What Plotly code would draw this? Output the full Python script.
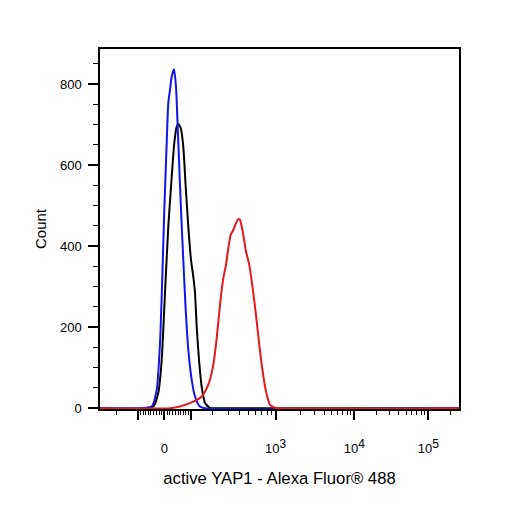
import numpy as np
import plotly.graph_objects as go

# ---------------- data (x = display channel on a 0-256 biexponential scale, y = count) -------------
blue_ch = [0, 30.0, 36.87, 40.43, 42.79, 44.43, 45.85, 47.56, 48.70, 49.92, 51.13, 52.77,
           54.19, 55.12, 56.33, 57.76, 59.40, 61.11, 62.97, 65.39, 67.74, 71.31, 74.88, 256]
blue_cnt = [0, 0, 4, 45, 161, 324, 490, 655, 754, 786, 819, 837,
            794, 720, 613, 490, 366, 243, 144, 70, 29, 4, 0, 0]

black_ch = [0, 32.0, 38.01, 41.57, 44.00, 46.35, 48.70, 51.13, 52.98, 54.69, 55.83, 57.55,
            59.40, 61.11, 62.97, 64.89, 66.53, 67.74, 68.96, 70.60, 72.52, 74.88, 78.44, 82.0, 256]
black_cnt = [0, 0, 4, 38, 119, 285, 448, 571, 655, 695, 702, 692,
             646, 547, 448, 366, 325, 285, 201, 119, 53, 13, 1, 0, 0]

red_ch = [0, 50.0, 57.05, 66.53, 72.52, 77.23, 80.79, 83.22, 85.57, 87.93, 89.85, 91.49,
          93.20, 95.05, 96.98, 98.62, 99.83, 101.76, 104.11, 106.46, 108.89, 111.24,
          113.60, 116.02, 118.37, 121.23, 124.79, 128.0, 256]
red_cnt = [0, 0, 4, 16, 29, 58, 107, 173, 255, 321, 354, 395,
           428, 440, 457, 467, 465, 436, 387, 354, 296, 230,
           156, 90, 41, 8, 1, 0, 0]

# axis tick values (fluorescence units) and labels
major_vals = [-100, 0, 100, 1000, 10000, 100000]
SUP = "<sup><span style='font-size:12px'>{}</span></sup>"
major_text = ["", "0", "", "10" + SUP.format(3), "10" + SUP.format(4), "10" + SUP.format(5)]
minor_vals = ([-200] + [-k for k in range(10, 100, 10)] + list(range(10, 100, 10)) +
              list(range(200, 1000, 100)) + list(range(2000, 10000, 1000)) +
              list(range(20000, 100000, 10000)) + [200000])

y_major = [0, 200, 400, 600, 800]

# ---------------- biexponential (logicle) display transform -------------
T, M, W = 262144.0, 4.9, 0.88
lo, hi = 1.0, 100.0
for _ in range(200):
    mid = (lo + hi) / 2
    if 2 * mid * np.log10(mid) / (mid + 1) < W:
        lo = mid
    else:
        hi = mid
p = (lo + hi) / 2


def logicle_value(d):
    u = d - W
    s = np.sign(u)
    a = np.abs(u)
    return s * T * 10 ** (-(M - W)) * (10 ** a - p ** 2 * 10 ** (-a / p) + p ** 2 - 1)


d_grid = np.linspace(0, M, 40001)
v_grid = logicle_value(d_grid)


def to_channel(v):
    return np.interp(np.asarray(v, dtype=float), v_grid, d_grid) / M * 256


FONT = "Liberation Sans, Arial, sans-serif"

fig = go.Figure()
for xs, ys, col in [(black_ch, black_cnt, "#000000"),
                    (blue_ch, blue_cnt, "#1414e6"),
                    (red_ch, red_cnt, "#e01b1b")]:
    fig.add_trace(go.Scatter(x=xs, y=ys, mode="lines",
                             line=dict(color=col, width=2, shape="spline", smoothing=0.6),
                             hoverinfo="skip"))

# the page body adds an 8px offset, so the figure is 498px and margins are shifted accordingly
fig.update_layout(
    width=498, height=498,
    margin=dict(l=92, r=47, t=41, b=97),
    paper_bgcolor="white", plot_bgcolor="white",
    showlegend=False,
    font=dict(family=FONT, size=13, color="black"),
)

fig.update_xaxes(
    range=[0, 256], showgrid=False, zeroline=False,
    showline=True, linecolor="black", linewidth=1.5, mirror=True,
    layer="below traces",
    tickmode="array", tickvals=list(to_channel(major_vals)), ticktext=major_text,
    ticks="outside", ticklen=9, tickwidth=1.5, tickcolor="black",
    ticklabelstandoff=18,
    tickfont=dict(family=FONT, size=13, color="black"),
    minor=dict(tickmode="array", tickvals=list(to_channel(minor_vals)),
               ticks="outside", ticklen=4, tickwidth=1.2, tickcolor="black"),
    title=dict(text="active YAP1 - Alexa Fluor® 488", standoff=17,
               font=dict(family=FONT, size=16.7, color="black")),
    automargin=False,
)

fig.update_yaxes(
    range=[-2, 887], showgrid=False, zeroline=False,
    showline=True, linecolor="black", linewidth=1.5, mirror=True,
    tickmode="array", tickvals=y_major, ticktext=[str(v) for v in y_major],
    ticks="outside", ticklen=10, tickwidth=1.5, tickcolor="black",
    ticklabelstandoff=4,
    tickfont=dict(family=FONT, size=13, color="black"),
    minor=dict(dtick=50, tick0=0, ticks="outside", ticklen=5, tickwidth=1.2, tickcolor="black"),
    title=dict(text="Count", standoff=10, font=dict(family=FONT, size=15, color="black")),
    automargin=False,
)

fig.write_html("out.html")
